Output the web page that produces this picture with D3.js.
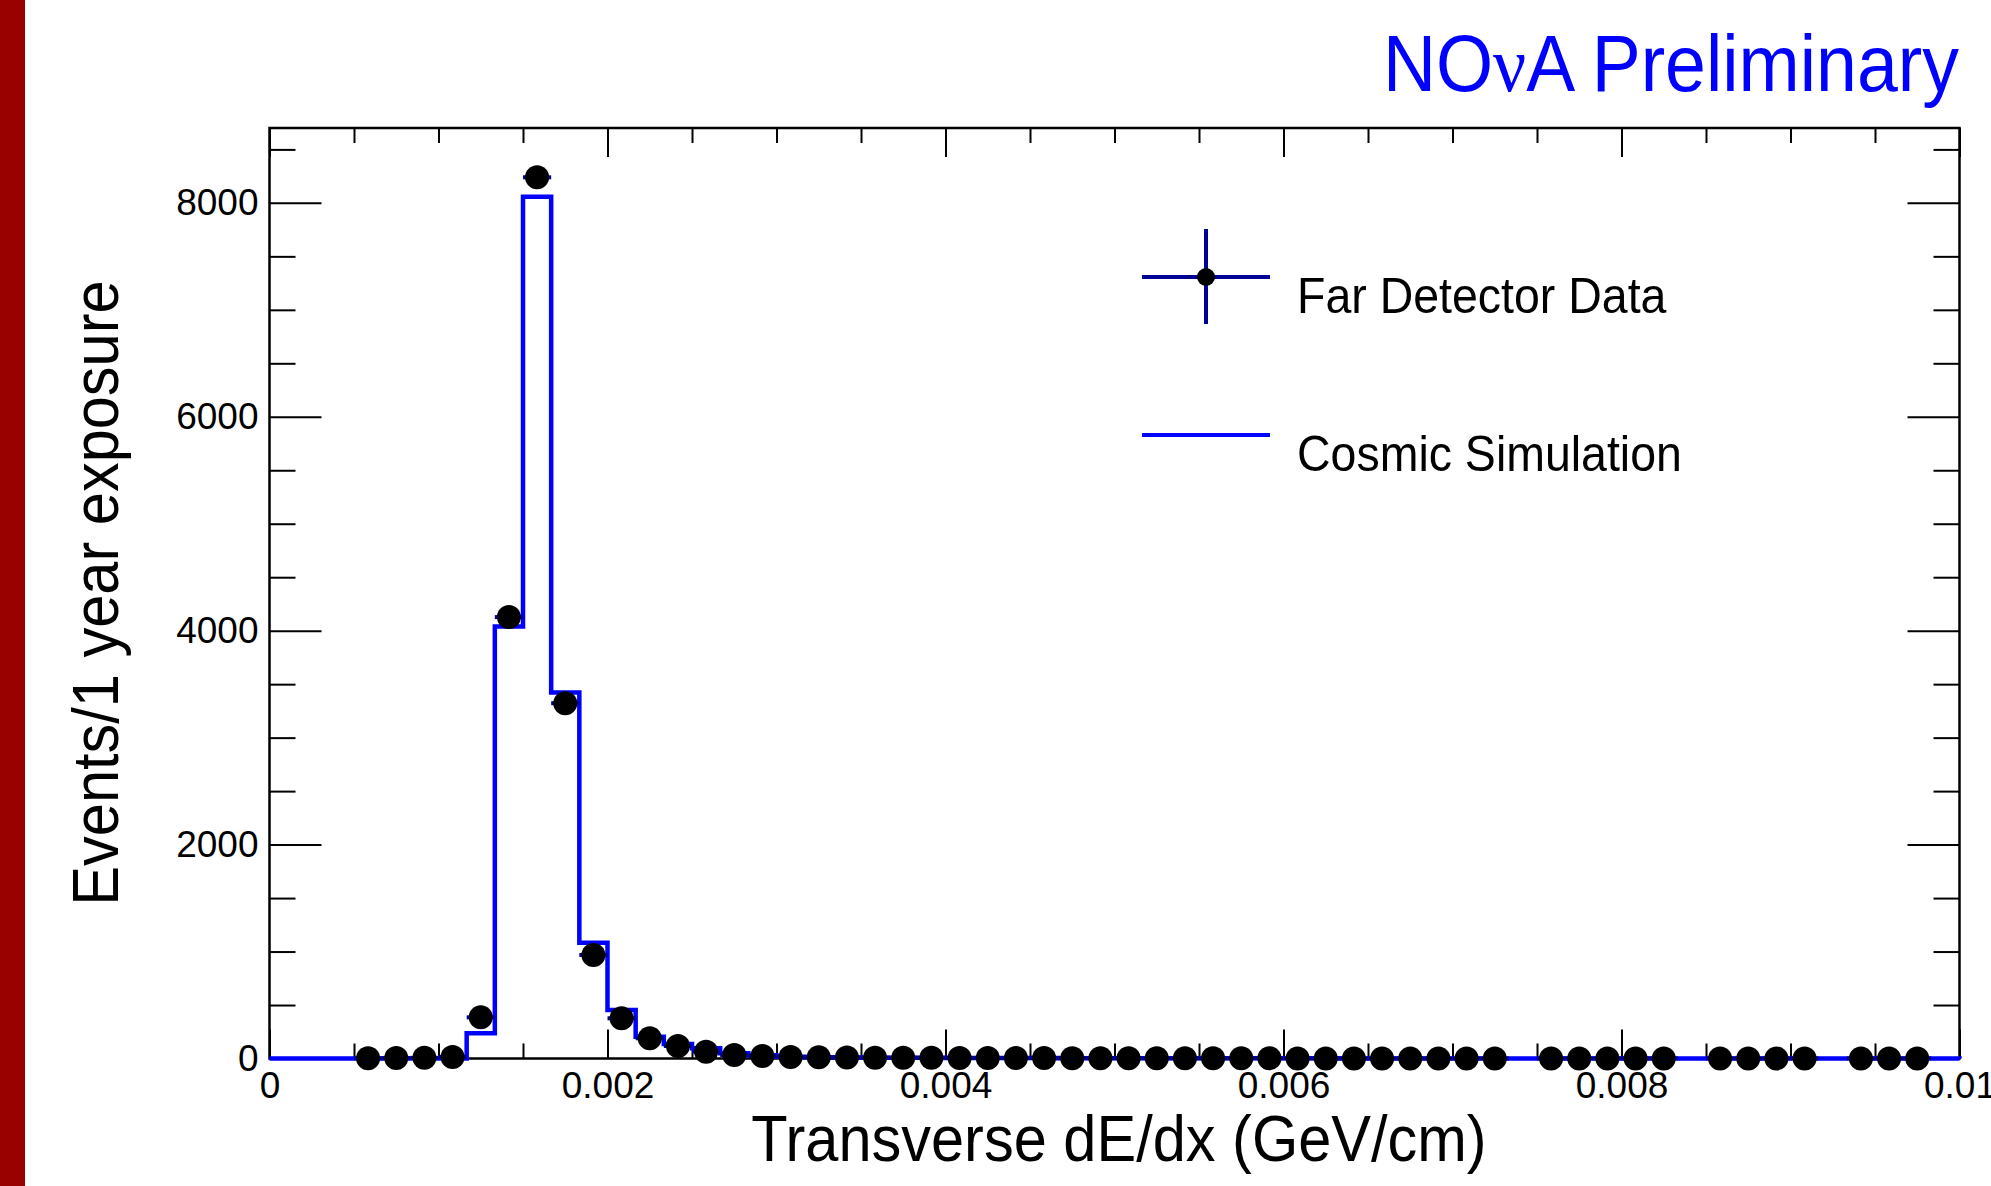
<!DOCTYPE html>
<html>
<head>
<meta charset="utf-8">
<script src="https://cdn.jsdelivr.net/npm/d3@7"></script>
<style>
  html, body { margin: 0; padding: 0; background: #ffffff; }
  svg { display: block; }
  text { font-family: "Liberation Sans", Arial, Helvetica, sans-serif; }
</style>
</head>
<body>
<svg id="chart" width="1991" height="1186"></svg>
<script>
// ---------------- data ----------------
const binCount = 60;
const xMin = 0, xMax = 0.01;
// Far Detector data (null = empty bin, no marker drawn)
const dataCounts = [
  null, null, null, 2, 4, 6, 15, 385, 4127, 8239,
  3322, 968, 376, 189, 117, 64, 33, 23, 15, 11,
  9, 8, 7, 6, 5, 5, 4, 4, 3, 3,
  3, 2, 2, 2, 2, 2, 1, 1, 1, 1,
  1, 1, 1, 1, null, 1, 1, 1, 1, 1,
  null, 1, 1, 1, 1, null, 1, 1, 1, null
];
// Cosmic simulation histogram
const simCounts = [
  0, 0, 0, 0, 0, 0, 0, 236, 4039, 8058,
  3422, 1083, 454, 204, 136, 95, 49, 30, 17, 12,
  10, 8, 7, 6, 5, 5, 4, 4, 3, 3,
  3, 3, 2, 2, 2, 2, 2, 2, 1, 1,
  1, 1, 1, 1, 1, 1, 1, 1, 1, 1,
  1, 1, 1, 1, 1, 1, 1, 1, 1, 1
];
const xMajorTicks = [0, 0.002, 0.004, 0.006, 0.008, 0.01];
const xTickLabels = ["0", "0.002", "0.004", "0.006", "0.008", "0.01"];
const yMajorTicks = [0, 2000, 4000, 6000, 8000];
const yTickLabels = ["0", "2000", "4000", "6000", "8000"];
const xTitle = "Transverse dE/dx (GeV/cm)";
const yTitle = "Events/1 year exposure";
const legendLabels = ["Far Detector Data", "Cosmic Simulation"];

// ---------------- layout ----------------
const svg = d3.select("#chart");
const L = 269.5, R = 1959.5, T = 128, B = 1058.5;
const x = d3.scaleLinear().domain([xMin, xMax]).range([L, R]);
const y = d3.scaleLinear().domain([0, 8700]).range([B, T]);
const binW = (xMax - xMin) / binCount;
const dataColor = "#000096";
const simColor = "#0000ff";

// left red band
svg.append("rect").attr("x", 0).attr("y", 0).attr("width", 25).attr("height", 1186).attr("fill", "#990000");

// minor ticks arrays
const xMinor = d3.range(0, 21).map(i => i * 0.0005).filter(v => !xMajorTicks.some(m => Math.abs(m - v) < 1e-9));
const yMinor = d3.range(0, 18).map(i => i * 500).filter(v => v % 2000 !== 0);

const tickFont = 37;
function styleAxis(g) {
  g.select(".domain").remove();
  g.selectAll("line").attr("stroke", "#000").attr("stroke-width", 2);
  g.attr("font-family", null).attr("font-size", null);
  g.selectAll("text").attr("fill", "#000").attr("font-size", tickFont)
    .attr("font-family", "\"Liberation Sans\", Arial, sans-serif");
}

// bottom axis (ticks point up)
svg.append("g").attr("transform", `translate(0,${B})`)
  .call(d3.axisBottom(x).tickValues(xMajorTicks).tickSizeInner(-29).tickSizeOuter(0).tickPadding(13)
    .tickFormat((d, i) => xTickLabels[i]))
  .call(styleAxis);
svg.append("g").attr("transform", `translate(0,${B})`)
  .call(d3.axisBottom(x).tickValues(xMinor).tickSizeInner(-15).tickSizeOuter(0).tickFormat(""))
  .call(styleAxis);
// top axis (ticks point down)
svg.append("g").attr("transform", `translate(0,${T})`)
  .call(d3.axisTop(x).tickValues(xMajorTicks).tickSizeInner(-29).tickSizeOuter(0).tickFormat(""))
  .call(styleAxis);
svg.append("g").attr("transform", `translate(0,${T})`)
  .call(d3.axisTop(x).tickValues(xMinor).tickSizeInner(-15).tickSizeOuter(0).tickFormat(""))
  .call(styleAxis);
// left axis (ticks point right)
svg.append("g").attr("transform", `translate(${L},0)`)
  .call(d3.axisLeft(y).tickValues(yMajorTicks).tickSizeInner(-52).tickSizeOuter(0).tickPadding(11)
    .tickFormat((d, i) => yTickLabels[i]))
  .call(styleAxis);
svg.append("g").attr("transform", `translate(${L},0)`)
  .call(d3.axisLeft(y).tickValues(yMinor).tickSizeInner(-26).tickSizeOuter(0).tickFormat(""))
  .call(styleAxis);
// right axis (ticks point left)
svg.append("g").attr("transform", `translate(${R},0)`)
  .call(d3.axisRight(y).tickValues(yMajorTicks).tickSizeInner(-52).tickSizeOuter(0).tickFormat(""))
  .call(styleAxis);
svg.append("g").attr("transform", `translate(${R},0)`)
  .call(d3.axisRight(y).tickValues(yMinor).tickSizeInner(-26).tickSizeOuter(0).tickFormat(""))
  .call(styleAxis);

// frame
svg.append("rect").attr("x", L).attr("y", T).attr("width", R - L).attr("height", B - T)
  .attr("fill", "none").attr("stroke", "#000").attr("stroke-width", 2.5);

// simulation step histogram
const stepPts = [];
simCounts.forEach((v, i) => {
  const x0 = xMin + i * binW, x1 = x0 + binW;
  stepPts.push([x0, v], [x1, v]);
});
const line = d3.line().x(d => x(d[0])).y(d => y(d[1]));
const stepPath = [[xMin, 0], ...stepPts, [xMax, 0]];
svg.append("path").attr("d", line(stepPath)).attr("fill", "none")
  .attr("stroke", simColor).attr("stroke-width", 4.5).attr("stroke-linejoin", "miter");

// data points
const pts = dataCounts.map((v, i) => ({ i, v, xc: xMin + (i + 0.5) * binW })).filter(d => d.v !== null);
const gData = svg.append("g");
gData.selectAll("line.h").data(pts).join("line").attr("class", "h")
  .attr("x1", d => x(d.xc - binW / 2)).attr("x2", d => x(d.xc + binW / 2))
  .attr("y1", d => y(d.v)).attr("y2", d => y(d.v))
  .attr("stroke", dataColor).attr("stroke-width", 4);
gData.selectAll("line.v").data(pts).join("line").attr("class", "v")
  .attr("x1", d => x(d.xc)).attr("x2", d => x(d.xc))
  .attr("y1", d => y(Math.max(0, d.v - Math.sqrt(d.v)))).attr("y2", d => y(d.v + Math.sqrt(d.v)))
  .attr("stroke", dataColor).attr("stroke-width", 4);
gData.selectAll("circle").data(pts).join("circle")
  .attr("cx", d => x(d.xc)).attr("cy", d => y(d.v)).attr("r", 12).attr("fill", "#000");

// legend
const lg = svg.append("g");
lg.append("line").attr("x1", 1142).attr("x2", 1270).attr("y1", 277).attr("y2", 277)
  .attr("stroke", dataColor).attr("stroke-width", 4);
lg.append("line").attr("x1", 1206).attr("x2", 1206).attr("y1", 229).attr("y2", 324)
  .attr("stroke", dataColor).attr("stroke-width", 4);
lg.append("circle").attr("cx", 1206).attr("cy", 277).attr("r", 9).attr("fill", "#000");
lg.append("line").attr("x1", 1142).attr("x2", 1270).attr("y1", 435).attr("y2", 435)
  .attr("stroke", simColor).attr("stroke-width", 4);
lg.append("text").attr("transform", "translate(1297,313) scale(0.93,1)")
  .attr("font-size", 50).attr("fill", "#000").text(legendLabels[0]);
lg.append("text").attr("transform", "translate(1297,471) scale(0.93,1)")
  .attr("font-size", 50).attr("fill", "#000").text(legendLabels[1]);

// titles
svg.append("text").attr("transform", "translate(1119,1161) scale(0.93,1)")
  .attr("text-anchor", "middle").attr("font-size", 64).attr("fill", "#000").text(xTitle);
svg.append("text").attr("transform", "translate(118,593) rotate(-90) scale(0.93,1)")
  .attr("text-anchor", "middle").attr("font-size", 64).attr("fill", "#000").text(yTitle);

const nova = svg.append("text").attr("transform", "translate(1959,91) scale(0.93,1)")
  .attr("text-anchor", "end").attr("font-size", 79).attr("fill", "#0000ff");
nova.append("tspan").text("NO");
nova.append("tspan").attr("font-family", "\"Liberation Serif\", serif").text("ν");
nova.append("tspan").text("A Preliminary");
</script>
</body>
</html>
